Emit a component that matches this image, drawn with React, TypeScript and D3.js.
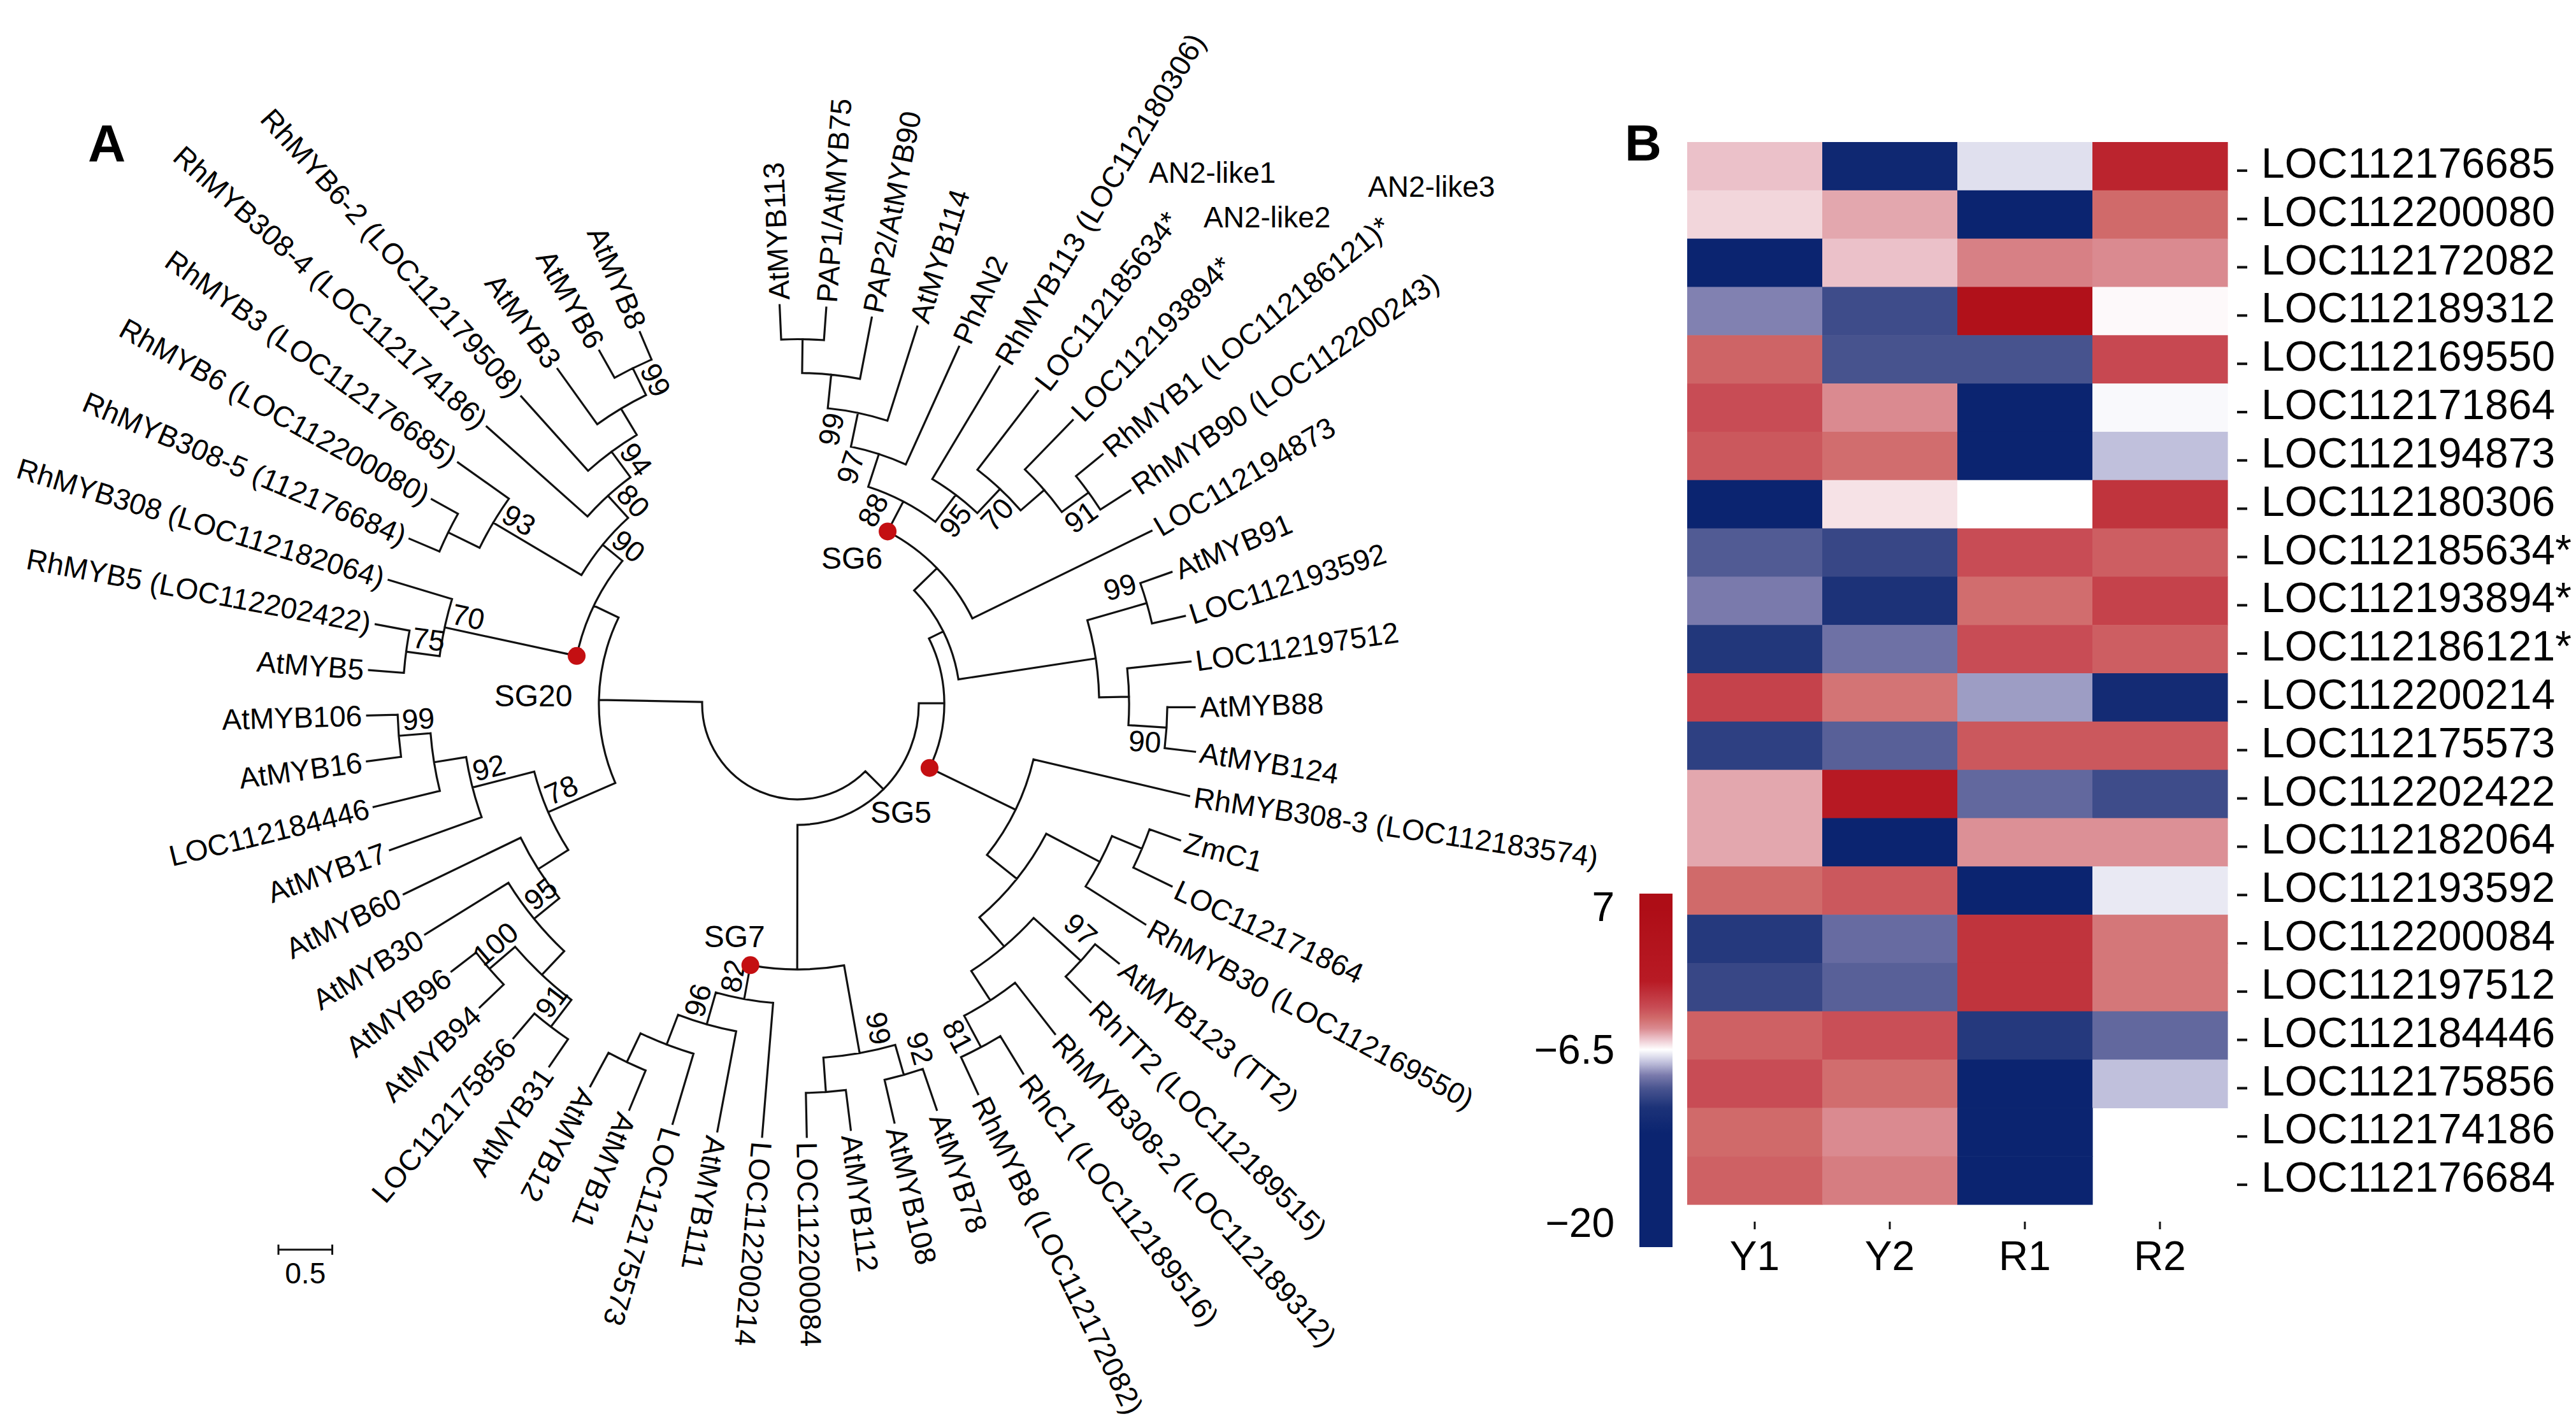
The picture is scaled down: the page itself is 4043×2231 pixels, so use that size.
import React from "react";
import * as d3 from "d3";

// ---------------- Tree data ----------------
const leafNames = [
  "AtMYB8", "AtMYB6", "AtMYB3", "RhMYB6-2 (LOC112179508)", "RhMYB308-4 (LOC112174186)",
  "RhMYB3 (LOC112176685)", "RhMYB6 (LOC112200080)", "RhMYB308-5 (112176684)", "RhMYB308 (LOC112182064)",
  "RhMYB5 (LOC112202422)", "AtMYB5", "AtMYB106", "AtMYB16", "LOC112184446", "AtMYB17", "AtMYB60",
  "AtMYB30", "AtMYB96", "AtMYB94", "LOC112175856", "AtMYB31", "AtMYB12", "AtMYB11", "LOC112175573",
  "AtMYB111", "LOC112200214", "LOC112200084", "AtMYB112", "AtMYB108", "AtMYB78", "RhMYB8 (LOC112172082)",
  "RhC1 (LOC112189516)", "RhMYB308-2 (LOC112189312)", "RhTT2 (LOC112189515)", "AtMYB123 (TT2)",
  "RhMYB30 (LOC112169550)", "LOC112171864", "ZmC1", "RhMYB308-3 (LOC112183574)", "AtMYB124", "AtMYB88",
  "LOC112197512", "LOC112193592", "AtMYB91", "LOC112194873", "RhMYB90 (LOC112200243)",
  "RhMYB1 (LOC112186121)*", "LOC112193894*", "LOC112185634*", "RhMYB113 (LOC112180306)", "PhAN2",
  "AtMYB114", "PAP2/AtMYB90", "PAP1/AtMYB75", "AtMYB113",
];

// Newick topology: leaves are L<index>, internal labels are bootstrap values
const cladeUpperLeft =
  "((((((L0:0.278,L1:0.290)99:0.278,L2:0.633):0.284,L3:0.929)94:0.296,L4:1.254)80:0.278," +
  "(L5:0.580,(L6:0.278,L7:0.302):0.325)93:0.953)90:0.237," +
  "(L8:0.615,(L9:0.320,L10:0.325)75:0.314)70:1.254):0.254";
const cladeLowerLeft =
  "((((L11:0.284,L12:0.320)99:0.296,L13:0.633):0.302,L14:0.905)92:0.592," +
  "(L15:1.207,(L16:0.911,((L17:0.290,L18:0.308)100:0.314,(L19:0.302,L20:0.308)91:0.314):0.302)95:0.302):0.331)78:0.680";
const cladeBottom =
  "(((((L21:0.355,L22:0.396):0.296,L23:0.680):0.296,L24:0.947)96:0.308,L25:1.249)82:0.320," +
  "((L26:0.408,L27:0.373):0.320,(L28:0.408,L29:0.402)92:0.290)99:0.828):1.343";
const cladeSG5 =
  "(((((L30:0.379,L31:0.408)81:0.331,L32:0.604):0.325,(L33:0.331,L34:0.284)97:0.592):0.355," +
  "(L35:0.657,(L36:0.396,L37:0.302):0.302):0.562):0.355,L38:1.485):0.888";
const cladeMYB88 =
  "(((L39:0.284,L40:0.254)90:0.355,L41:0.592):0.278,(L42:0.314,L43:0.308)99:0.574):1.290";
const cladeSG6 =
  "(L44:1.852,(((((L45:0.331,L46:0.320)91:0.308,L47:0.639):0.290,L48:0.923)70:0.308,L49:1.219)95:0.314," +
  "(L50:1.201,(L51:0.917,(L52:0.580,(L53:0.302,L54:0.320):0.314):0.314)99:0.320)97:0.320)88:0.314):0.296";
const treeNewick =
  "(((" + cladeUpperLeft + "," + cladeLowerLeft + "):0.959," +
  "(" + cladeBottom + ",(" + cladeSG5 + ",(" + cladeMYB88 + "," + cladeSG6 + "):0.148):0.237):0.237);";

// angular position (degrees, counter-clockwise) of selected leaf indices
const leafAngleIndex = [0, 5, 10, 15, 20, 25, 30, 35, 40, 45, 50, 54];
const leafAngleDeg = [113, 144.6, 175.5, 205.8, 235.6, 265.3, 294.8, 327.6, 359.5, 392.7, 425.7, 452.6];
// extra tilt of leaf label text (degrees)
const labelTiltIndex = [0, 29, 30, 31, 32, 33, 34, 35, 36, 37, 38, 39, 40, 41, 42, 43, 44, 45, 46, 54];
const labelTiltDeg = [0, 0, 1.5, 6, 4, 0.5, 0.5, 4, 1, 5, 4.8, -2, 2.5, 2, 5, 3.5, 4.5, 2, 0, 0];

const subgroups = [
  { name: "SG20", first: 8, last: 10, dx: -68, dy: 62 },
  { name: "SG7", first: 21, last: 25, dx: -25, dy: -45 },
  { name: "SG5", first: 30, last: 38, dx: -45, dy: 70 },
  { name: "SG6", first: 45, last: 54, dx: -56, dy: 42 },
];
const an2Notes = [
  { label: "AN2-like1", x: 1803, y: 271 },
  { label: "AN2-like2", x: 1889, y: 341 },
  { label: "AN2-like3", x: 2147, y: 293 },
];

// ---------------- Heatmap data ----------------
const genes = [
  "LOC112176685", "LOC112200080", "LOC112172082", "LOC112189312", "LOC112169550", "LOC112171864",
  "LOC112194873", "LOC112180306", "LOC112185634*", "LOC112193894*", "LOC112186121*", "LOC112200214",
  "LOC112175573", "LOC112202422", "LOC112182064", "LOC112193592", "LOC112200084", "LOC112197512",
  "LOC112184446", "LOC112175856", "LOC112174186", "LOC112176684",
];
const samples = ["Y1", "Y2", "R1", "R2"];
const exprY1 = [-5.45, -5.8, -15, -8.4, -3.3, -2.5, -2.9, -15, -9.35, -8.5, -10.8, -2.0, -10.4, -5.0, -5.0, -3.5, -10.7, -10.1, -3.2, -2.5, -3.5, -3.2];
const exprY2 = [-12.5, -5.0, -5.45, -9.9, -9.6, -4.5, -3.6, -6.0, -10.1, -11, -8.75, -3.8, -9.2, 0.5, -15, -2.9, -8.9, -9.2, -2.6, -3.6, -4.5, -4.1];
const exprR1 = [-7.0, -15, -4.2, 5, -9.6, -14, -14, -6.5, -2.5, -3.6, -2.5, -8.0, -2.9, -9.0, -4.6, -15, -1.3, -1.3, -10.7, -15, -15, -15];
const exprR2 = [-0.5, -3.5, -4.5, -6.4, -2.3, -6.6, -7.5, -1.3, -3.1, -2.0, -3.1, -12, -2.9, -9.9, -4.6, -6.85, -3.9, -3.9, -9.0, -7.5, null, null];
const legendTicks = [7, -6.5, -20];
const colorDomain = [-20, -13, -11, -9.5, -8.5, -7.5, -6.5, -5.5, -4.5, -3.5, -2.5, 0, 7];
const colorRange = ["#0b2470", "#0b2470", "#1c3278", "#4a5590", "#7a7aac", "#c0c0dc", "#ffffff", "#ecc4cc", "#da8a90", "#d06a6a", "#c84c55", "#b81a24", "#ae0d16"];

type TNode = { name: string; length: number; children: TNode[] };

function parseNewick(s: string): TNode {
  let i = 0;
  const parseNode = (): TNode => {
    const node: TNode = { name: "", length: 0, children: [] };
    if (s[i] === "(") {
      i++;
      node.children.push(parseNode());
      while (s[i] === ",") {
        i++;
        node.children.push(parseNode());
      }
      i++; // ')'
    }
    let name = "";
    while (i < s.length && !",():;".includes(s[i])) name += s[i++];
    node.name = name.trim();
    if (s[i] === ":") {
      i++;
      let num = "";
      while (i < s.length && !",();".includes(s[i])) num += s[i++];
      node.length = parseFloat(num);
    }
    return node;
  };
  return parseNode();
}

const FONT = "'Liberation Sans', Arial, Helvetica, sans-serif";

export default function App() {
  const W = 4043, H = 2231;
  const cx = 1252, cy = 1105;

  // ---------- tree layout ----------
  const root = d3.hierarchy<TNode>(parseNewick(treeNewick), (d) => (d.children.length ? d.children : undefined));
  const angle = d3.scaleLinear().domain(leafAngleIndex).range(leafAngleDeg);
  const tilt = d3.scaleLinear().domain(labelTiltIndex).range(labelTiltDeg);
  const radius = d3.scaleLinear().domain([0, 1]).range([150, 319]);
  const dist = new Map<any, number>();
  const theta = new Map<any, number>();
  root.eachBefore((n) => dist.set(n, n.parent ? (dist.get(n.parent) as number) + n.data.length : 0));
  root.eachAfter((n) => {
    if (!n.children) theta.set(n, angle(+n.data.name.slice(1)));
    else theta.set(n, ((theta.get(n.children[0]) as number) + (theta.get(n.children[n.children.length - 1]) as number)) / 2);
  });
  const rad = (d: number) => (d * Math.PI) / 180;
  const norm = (d: number) => ((d % 360) + 360) % 360;
  const pt = (t: number, r: number): [number, number] => [cx + r * Math.cos(rad(t)), cy - r * Math.sin(rad(t))];
  const R = (n: any) => radius(dist.get(n) as number);

  const p = d3.path();
  root.each((n) => {
    const t = theta.get(n) as number;
    const r = R(n);
    if (n.parent) {
      const [x0, y0] = pt(t, R(n.parent));
      const [x1, y1] = pt(t, r);
      p.moveTo(x0, y0);
      p.lineTo(x1, y1);
    }
    if (n.children) {
      const t1 = theta.get(n.children[0]) as number;
      const t2 = theta.get(n.children[n.children.length - 1]) as number;
      const [sx, sy] = pt(t1, r);
      p.moveTo(sx, sy);
      p.arc(cx, cy, r, -rad(t1), -rad(t2), true);
    }
  });

  const leafLabels = root.leaves().map((n, i) => {
    const idx = +n.data.name.slice(1);
    const t = theta.get(n) as number;
    const [x, y] = pt(t, R(n) + 8);
    const tn = norm(t);
    const flip = tn > 100 && tn < 240;
    const ta = t + tilt(idx);
    const rot = flip ? 180 - ta : -ta;
    return (
      <text key={"leaf" + i} transform={`translate(${x},${y}) rotate(${rot})`} textAnchor={flip ? "end" : "start"} dy="0.35em" fontSize={46}>
        {leafNames[idx]}
      </text>
    );
  });

  const bootLabels = root
    .descendants()
    .filter((n) => n.children && n.data.name)
    .map((n, i) => {
      const t = theta.get(n) as number;
      const r = R(n) - 32;
      const tn = norm(t);
      const isFirst = !!n.parent && n.parent.children![0] === n;
      const cw = (tn > 90 && tn < 270) || isFirst;
      const off = cw ? 24 : 36;
      const dt = ((cw ? -1 : 1) * (off / r) * 180) / Math.PI;
      const [x, y] = pt(t + dt, r);
      const flip = tn > 100 && tn < 270;
      const rot = flip ? 180 - t : -t;
      return (
        <text key={"bs" + i} transform={`translate(${x},${y}) rotate(${rot})`} textAnchor="middle" dy="0.35em" fontSize={46}>
          {n.data.name}
        </text>
      );
    });

  const sgMarks = subgroups.map((sg) => {
    const node = root.descendants().find((n) => {
      const ls = n.leaves();
      return ls.length === sg.last - sg.first + 1 && ls[0].data.name === "L" + sg.first && ls[ls.length - 1].data.name === "L" + sg.last;
    })!;
    const [x, y] = pt(theta.get(node) as number, R(node.parent));
    return (
      <g key={sg.name}>
        <circle cx={x} cy={y} r={14} fill="#c40f12" />
        <text x={x + sg.dx} y={y + sg.dy} textAnchor="middle" dy="0.35em" fontSize={48}>
          {sg.name}
        </text>
      </g>
    );
  });

  // scale bar
  const sbX = 437;
  const sbY = 1962;
  const sbLen = radius(0.5) - radius(0);

  // ---------- heatmap ----------
  const color = d3.scaleLinear<string>().domain(colorDomain).range(colorRange).interpolate(d3.interpolateRgb).clamp(true);
  const xH = d3.scaleBand<string>().domain(samples).range([2648, 3496]);
  const yH = d3.scaleBand<string>().domain(genes).range([223, 1891]);
  const cols = [exprY1, exprY2, exprR1, exprR2];
  const legendY = d3.scaleLinear().domain([-20, -6.5, 7]).range([1920, 1648, 1424]);
  const barTop = 1403, barBot = 1958;
  const gradStops = d3.range(-20, 7.01, 0.25).map((v) => ({ off: (legendY(v) - barTop) / (barBot - barTop), c: color(v) }));
  gradStops.sort((a, b) => a.off - b.off);

  return (
    <svg width={W} height={H} viewBox={`0 0 ${W} ${H}`} style={{ position: "absolute", left: 0, top: 0, background: "#fff" }} fontFamily={FONT}>
      <rect x={0} y={0} width={W} height={H} fill="#fff" />
      <defs>
        <linearGradient id="legendGrad" gradientUnits="userSpaceOnUse" x1={0} y1={barTop} x2={0} y2={barBot}>
          {gradStops.map((s, i) => (
            <stop key={i} offset={Math.max(0, Math.min(1, s.off))} stopColor={s.c} />
          ))}
        </linearGradient>
      </defs>

      {/* Panel A */}
      <text x={138} y={253} fontSize={82} fontWeight="bold">A</text>
      <path d={p.toString()} fill="none" stroke="#111" strokeWidth={3.2} strokeLinecap="square" />
      {leafLabels}
      {bootLabels}
      {sgMarks}
      {an2Notes.map((a) => (
        <text key={a.label} x={a.x} y={a.y} dy="0.35em" fontSize={46}>{a.label}</text>
      ))}
      <g stroke="#111" strokeWidth={3}>
        <line x1={sbX} y1={sbY} x2={sbX + sbLen} y2={sbY} />
        <line x1={sbX} y1={sbY - 8} x2={sbX} y2={sbY + 8} />
        <line x1={sbX + sbLen} y1={sbY - 8} x2={sbX + sbLen} y2={sbY + 8} />
      </g>
      <text x={sbX + sbLen / 2} y={2015} textAnchor="middle" fontSize={46}>0.5</text>

      {/* Panel B */}
      <text x={2550} y={252} fontSize={80} fontWeight="bold">B</text>
      {genes.map((g, gi) =>
        samples.map((s, si) => {
          const v = cols[si][gi];
          if (v === null || v === undefined) return null;
          return <rect key={g + s} x={xH(s)} y={yH(g)} width={xH.bandwidth() + 0.6} height={yH.bandwidth() + 0.6} fill={color(v as number)} />;
        })
      )}
      {genes.map((g) => {
        const yc = (yH(g) as number) + yH.bandwidth() / 2;
        return (
          <g key={"lab" + g}>
            <line x1={3511} x2={3527} y1={yc + 7} y2={yc + 7} stroke="#111" strokeWidth={4} />
            <text x={3549} y={yc - 5} dy="0.35em" fontSize={66}>{g}</text>
          </g>
        );
      })}
      {samples.map((s) => {
        const xc = (xH(s) as number) + xH.bandwidth() / 2;
        return (
          <g key={"col" + s}>
            <line x1={xc} x2={xc} y1={1918} y2={1930} stroke="#111" strokeWidth={3} />
            <text x={xc} y={1994} textAnchor="middle" fontSize={64}>{s}</text>
          </g>
        );
      })}
      <rect x={2573} y={barTop} width={52} height={barBot - barTop} fill="url(#legendGrad)" />
      {legendTicks.map((v) => (
        <text key={"lt" + v} x={2534} y={legendY(v)} dy="0.35em" textAnchor="end" fontSize={64}>
          {v < 0 ? "\u2212" + Math.abs(v) : String(v)}
        </text>
      ))}
    </svg>
  );
}
